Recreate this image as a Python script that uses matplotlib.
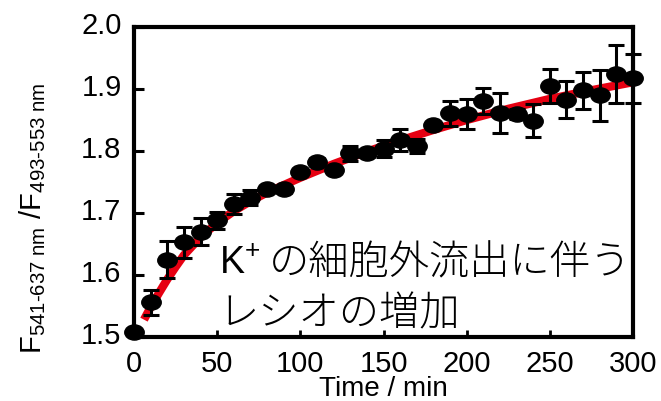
import numpy as np
import matplotlib
matplotlib.use("Agg")
import matplotlib.pyplot as plt
from matplotlib.path import Path
from matplotlib.transforms import Affine2D, ScaledTranslation

plt.rcParams['font.family'] = ['Liberation Sans', 'DejaVu Sans']
plt.rcParams['mathtext.fontset'] = 'custom'
plt.rcParams['mathtext.rm'] = 'Liberation Sans'
plt.rcParams['mathtext.it'] = 'Liberation Sans'

# ---- data ----
time_min = [0, 10, 20, 30, 40, 50, 60, 70, 80, 90, 100, 110, 120, 130, 140, 150,
            160, 170, 180, 190, 200, 210, 220, 230, 240, 250, 260, 270, 280, 290, 300]
ratio = [1.508, 1.556, 1.625, 1.653, 1.670, 1.688, 1.714, 1.725, 1.739, 1.738,
         1.766, 1.783, 1.769, 1.796, 1.796, 1.804, 1.818, 1.808, 1.842, 1.861,
         1.860, 1.881, 1.861, 1.860, 1.849, 1.905, 1.883, 1.898, 1.890, 1.924, 1.917]
ratio_err = [0.0, 0.020, 0.030, 0.025, 0.022, 0.014, 0.016, 0.012, 0.005, 0.005,
             0.005, 0.005, 0.005, 0.012, 0.005, 0.014, 0.018, 0.012, 0.005, 0.020,
             0.024, 0.021, 0.032, 0.008, 0.027, 0.028, 0.030, 0.030, 0.041, 0.047, 0.039]

fit_time = [6, 10, 15, 20, 25, 30, 40, 50, 60, 70, 80, 90, 100, 120, 140, 160,
            180, 200, 225, 250, 275, 302]
fit_ratio = [1.528, 1.548, 1.571, 1.593, 1.613, 1.632, 1.661, 1.684, 1.703, 1.719,
             1.733, 1.745, 1.757, 1.779, 1.799, 1.817, 1.834, 1.850, 1.868, 1.884,
             1.898, 1.912]

xticks = [0, 50, 100, 150, 200, 250, 300]
yticks = [1.5, 1.6, 1.7, 1.8, 1.9, 2.0]
ytick_labels = ['1.5', '1.6', '1.7', '1.8', '1.9', '2.0']

W, H = 661, 401
fig = plt.figure(figsize=(W / 100, H / 100), dpi=100)
ax = fig.add_axes([134 / W, 1 - 337 / H, (633 - 134) / W, (337 - 27) / H])

# fitted curve
ax.plot(fit_time, fit_ratio, color='#e60012', lw=6, solid_capstyle='butt', zorder=2)

# ellipse marker (wider than tall)
circ = Path.unit_circle()
ell = Affine2D().scale(1.0, 0.78).transform_path(circ)

ax.errorbar(time_min, ratio, yerr=ratio_err, fmt='none', ecolor='black',
            elinewidth=2.2, capsize=5.5, capthick=2.2, zorder=3, clip_on=False)
ax.plot(time_min, ratio, linestyle='none', marker=ell, markersize=14,
        color='black', zorder=4, clip_on=False)

ax.set_xlim(0, 300)
ax.set_ylim(1.5, 2.0)
ax.set_xticks(xticks)
ax.set_xticklabels([str(v) for v in xticks])
ax.set_yticks(yticks)
ax.set_yticklabels(ytick_labels)

for s in ax.spines.values():
    s.set_linewidth(3.0)
ax.tick_params(axis='y', direction='in', length=7, width=2.2, labelsize=21, pad=9)
ax.tick_params(axis='x', direction='in', length=5, width=2.0, labelsize=21, pad=9)

# shift y tick labels slightly upward as in the reference
off = ScaledTranslation(0, 4 / 100, fig.dpi_scale_trans)
for lab in ax.get_yticklabels():
    lab.set_transform(lab.get_transform() + off)

xl = ax.set_xlabel('Time / min', fontsize=20)
ax.xaxis.set_label_coords(0.5, -(396 - 337) / 310)
xl.set_va('baseline')

fig.text(33 / W, 1 - 218 / H,
         r'F$_{\mathregular{541\text{-}637\ nm}}$ /F$_{\mathregular{493\text{-}553\ nm}}$',
         rotation=90, ha='center', va='center', fontsize=21)

cjk = ['Noto Sans CJK JP', 'DejaVu Sans']
base1 = 1 - 274 / H
t1 = fig.text(219 / W, base1, r'K$^{+}$', fontsize=27, ha='left', va='baseline')
fig.canvas.draw()
ext = t1.get_window_extent()
fig.text((ext.x1 + 8) / W, base1, 'の細胞外流出に伴う', family=cjk,
         fontsize=29, fontweight='light', ha='left', va='baseline')
fig.text(218 / W, 1 - 325 / H, 'レシオの増加', family=cjk,
         fontsize=29, fontweight='light', ha='left', va='baseline')

fig.savefig('out.png', dpi=100)
